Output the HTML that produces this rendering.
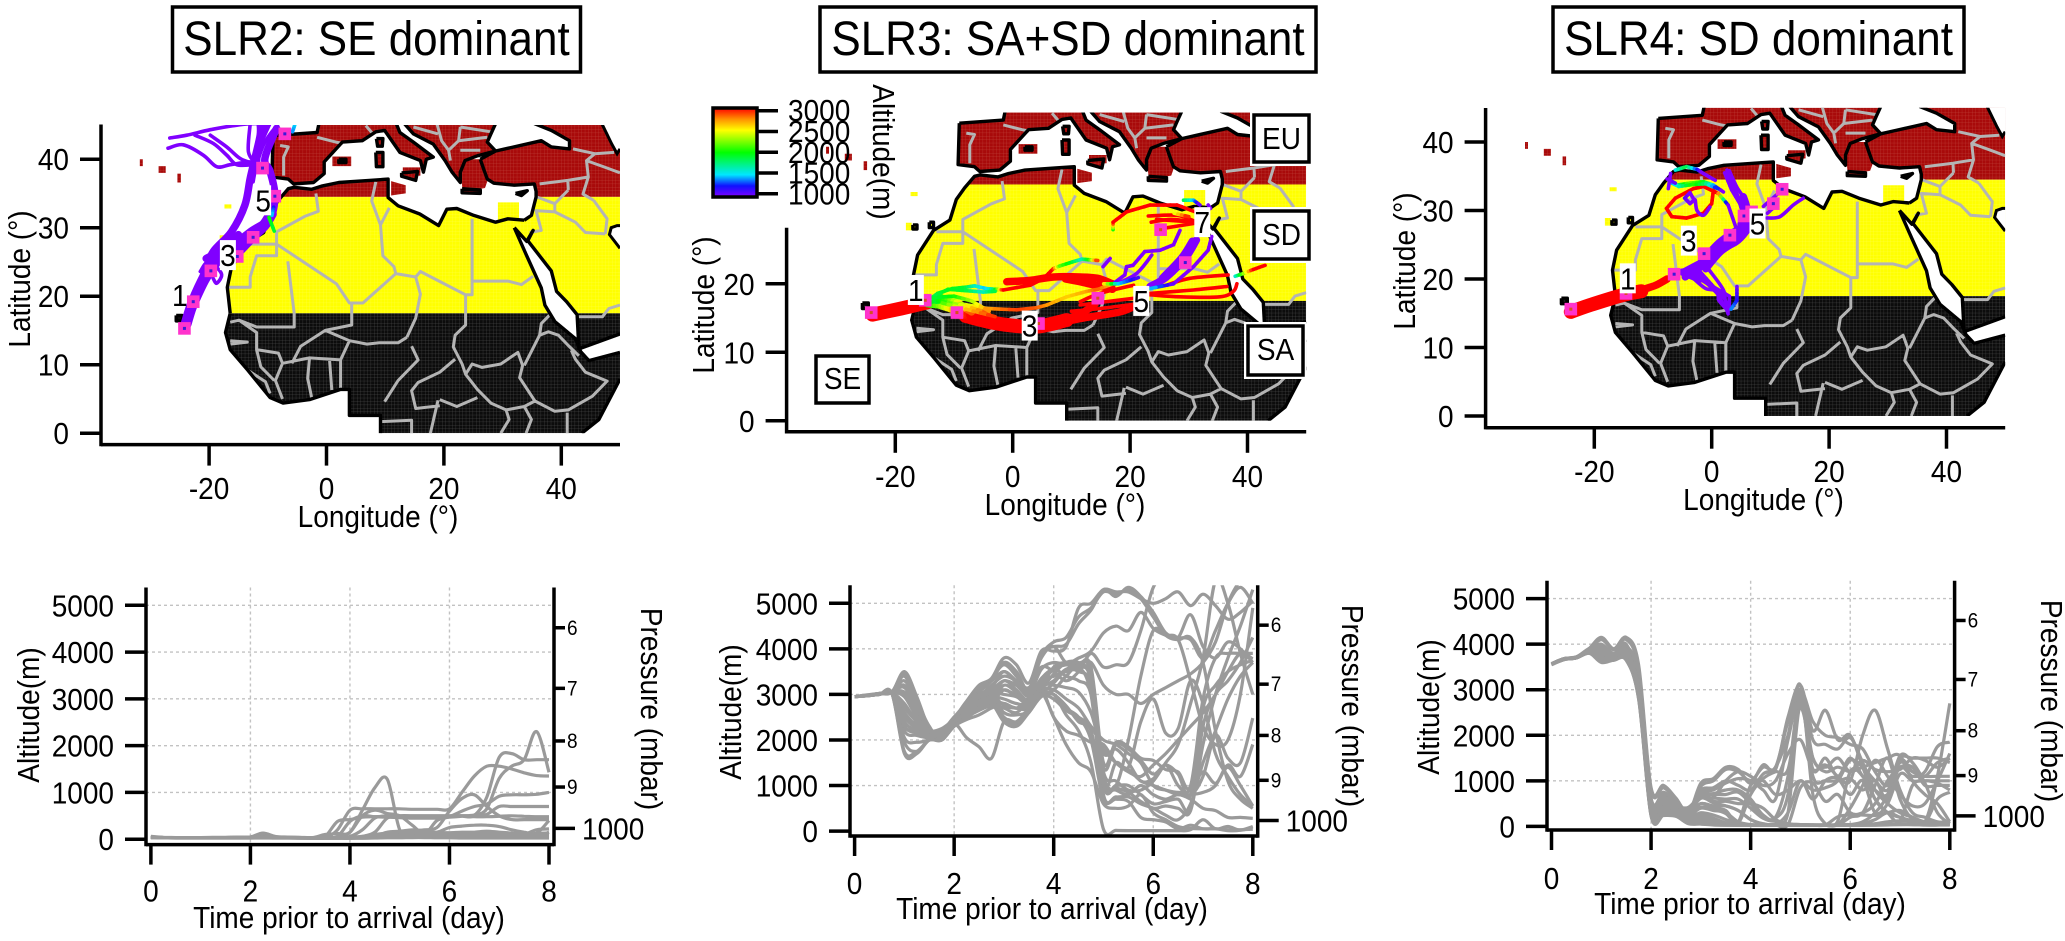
<!DOCTYPE html>
<html lang="en">
<head>
<meta charset="utf-8">
<title>SLR trajectories</title>
<style>
html,body{margin:0;padding:0;background:#fff;width:2065px;height:941px;overflow:hidden}
svg{display:block;font-family:"Liberation Sans",sans-serif;fill:#000}
text{font-size:28px}
</style>
</head>
<body>
<svg id="figure" xmlns="http://www.w3.org/2000/svg" width="2065" height="941" viewBox="0 0 2065 941">
  <defs>
    <pattern id="mesh-red" width="3.4" height="3.4" patternUnits="userSpaceOnUse"><rect width="3.4" height="3.4" fill="#a80a0a"/><path d="M0 0H3.4M0 0V3.4" stroke="#c24a40" stroke-width=".5"/></pattern>
    <pattern id="mesh-yellow" width="3.4" height="3.4" patternUnits="userSpaceOnUse"><rect width="3.4" height="3.4" fill="#ffff00"/><path d="M0 0H3.4M0 0V3.4" stroke="#ffff50" stroke-width=".5"/></pattern>
    <pattern id="mesh-black" width="3.4" height="3.4" patternUnits="userSpaceOnUse"><rect width="3.4" height="3.4" fill="#0c0c0c"/><path d="M0 0H3.4M0 0V3.4" stroke="#555" stroke-width=".5"/></pattern>
    <linearGradient id="altitude-gradient" x1="0" y1="1" x2="0" y2="0"></linearGradient>
  </defs>
  <g id="maps"></g>
  <g id="profiles"></g>

  <g>
    <rect x="172.5" y="7" width="408" height="65" fill="#fff" stroke="#000" stroke-width="3.5"/>
    <text x="376.5" y="55" text-anchor="middle" style="font-size:44px">SLR2: SE dominant</text>
    <rect x="820" y="7" width="496" height="65" fill="#fff" stroke="#000" stroke-width="3.5"/>
    <text x="1068" y="55" text-anchor="middle" style="font-size:44px">SLR3: SA+SD dominant</text>
    <rect x="1553" y="7" width="411" height="65" fill="#fff" stroke="#000" stroke-width="3.5"/>
    <text x="1758.5" y="55" text-anchor="middle" style="font-size:44px">SLR4: SD dominant</text>
  </g>

  <g>
    <text x="378" y="527" text-anchor="middle">Longitude (°)</text>
    <text x="1065" y="515" text-anchor="middle">Longitude (°)</text>
    <text x="1763.5" y="510" text-anchor="middle">Longitude (°)</text>
    <text transform="translate(30,279) rotate(-90)" text-anchor="middle">Latitude (°)</text>
    <text transform="translate(714,305) rotate(-90)" text-anchor="middle">Latitude (°)</text>
    <text transform="translate(1415,261) rotate(-90)" text-anchor="middle">Latitude (°)</text>
  </g>

  <g>
    <text x="349" y="928" text-anchor="middle">Time prior to arrival (day)</text>
    <text x="1052" y="919" text-anchor="middle">Time prior to arrival (day)</text>
    <text x="1750" y="914" text-anchor="middle">Time prior to arrival (day)</text>
    <text transform="translate(39,715) rotate(-90)" text-anchor="middle">Altitude(m)</text>
    <text transform="translate(741,712) rotate(-90)" text-anchor="middle">Altitude(m)</text>
    <text transform="translate(1439,707) rotate(-90)" text-anchor="middle">Altitude(m)</text>
    <text transform="translate(641,709) rotate(90)" text-anchor="middle">Pressure (mbar)</text>
    <text transform="translate(1342,706) rotate(90)" text-anchor="middle">Pressure (mbar)</text>
    <text transform="translate(2041,701) rotate(90)" text-anchor="middle">Pressure (mbar)</text>
  </g>

  <g id="colorbar">
    <rect x="713" y="108" width="44" height="89" fill="url(#altitude-gradient)" stroke="#000" stroke-width="3.5"/>
    <text transform="translate(873,152) rotate(90)" text-anchor="middle">Altitude(m)</text>
  </g>

  <g>
    <rect x="1250" y="111" width="62" height="55" fill="#fff"/>
    <rect x="1254" y="115" width="55" height="47" fill="#fff" stroke="#000" stroke-width="3.5"/>
    <text x="1281.5" y="149" text-anchor="middle">EU</text>
    <rect x="1250" y="207" width="62" height="56" fill="#fff"/>
    <rect x="1254" y="211" width="55" height="48" fill="#fff" stroke="#000" stroke-width="3.5"/>
    <text x="1281.5" y="245" text-anchor="middle">SD</text>
    <rect x="1244" y="322" width="62" height="57" fill="#fff"/>
    <rect x="1248" y="326" width="55" height="49" fill="#fff" stroke="#000" stroke-width="3.5"/>
    <text x="1275.5" y="360" text-anchor="middle">SA</text>
    <rect x="816" y="356" width="53" height="47" fill="#fff" stroke="#000" stroke-width="3.5"/>
    <text x="842.5" y="389" text-anchor="middle">SE</text>
  </g>
</svg>

<script>
/* ---------- shared axis data ---------- */
const lonTicks = [-20, 0, 20, 40];
const latTicksFull = [0, 10, 20, 30, 40];
const latTicksShort = [0, 10, 20];
const dayTicks = [0, 2, 4, 6, 8];
const dayGrid = [2, 4, 6];
const altTicks = [0, 1000, 2000, 3000, 4000, 5000];
const pressureLabels = ['6', '7', '8', '9', '1000'];
const pressureAltitudes = [4520, 3225, 2100, 1115, 232];
const colorbarTicks = [3000, 2500, 2000, 1500, 1000];
const colorStopAlt = [1000, 1250, 1500, 2000, 2500, 2750, 3000];
const colorStopHue = ['#8000ff', '#1010ff', '#00e8ff', '#00ff00', '#ffff00', '#ff9000', '#ff0000'];
const days = [0,.25,.5,.75,1,1.25,1.5,1.75,2,2.25,2.5,2.75,3,3.25,3.5,3.75,4,4.25,4.5,4.75,5,5.25,5.5,5.75,6,6.25,6.5,6.75,7,7.25,7.5,7.75,8];

/* ---------- geography (lon, lat); a third value of 1 marks an unstroked seam ---------- */
const landCoasts = [
  [[-16.4,17.5],[-16.9,21.3],[-16.2,24.2],[-13.5,27.8],[-10.7,29.3],[-9.6,32.3],[-8.2,34],[-6.5,35.7],[-5.5,35.9],[-2.5,35.6],[-0.7,36.1],[2.1,36.6],[7.3,36.9],[10.5,37.1],[10.5,34.4],[12.2,33.2],[15.9,32],[19.1,30.3],[20.5,32.7],[22.2,32.8],[25.1,31.8],[28.8,30.8],[30.9,31.3],[33.7,31.1],[32,30,1],[34,26.1],[36.6,21.2],[37.2,18.7],[38.9,16.3],[42.4,13.8],[43.3,11.9],[44.7,10.6],[50,11.8],[50,7.9],[46.4,2],[43.5,0],[9.2,0],[9.2,2.6],[3.9,2.6],[3.9,6.4],[2.4,6.4],[-2.9,4.9],[-7.4,4.4],[-9.6,5.2],[-13.4,9.2],[-16.4,12.2],[-17.2,14.7]],
  [[26.2,40],[26.8,38.5],[27.4,37.1],[28.5,36.5],[32,36.2],[35.4,36.4],[35.7,35.3],[35.7,34.5],[34.9,31.8],[33.7,31.1],[32,30,1],[34.1,28],[35.2,29.6],[34.3,28.1],[38.3,23.7],[39.2,20.7],[40.9,19.2],[42.7,17.3],[43,12.3],[50,14.5],[50,45],[35.4,45.2],[38.3,44.2],[41.4,42.7],[41.4,41.5],[38.3,41.8],[36.6,42.7],[31.4,41.7],[28.8,41.2]],
  [[-9.1,43.45],[-1.6,43.9],[-1.3,45.15],[11.9,45.15],[12.5,43.9],[14.8,42.5],[18.2,40.3],[17,40],[16.5,38.1],[16,39.8],[12.5,41],[9.9,44.2],[8.4,44],[6.1,42.7],[2.7,42.5],[-0.4,39.6],[-0.4,37.9],[-2.2,36.6],[-5.6,36.4],[-6.5,37.1],[-9.3,37.4]],
  [[13.3,45.15],[14.8,43.7],[18.2,42.2],[20.2,39.8],[21.4,38.1],[22.8,36.6],[22.8,38.1],[23.6,39.8],[25.7,40.5],[28.8,41.2],[27.4,42.5],[28,43.7],[28.8,45.2]],
  [[12.8,38],[15.5,38.2],[15.2,36.9],[12.8,37.5]],
  [[8.4,41],[9.6,41],[9.6,38.9],[8.5,38.9]],
  [[8.5,43],[9.6,43],[9.5,41.9],[8.7,41.9]],
  [[2.1,40],[3.3,40],[3.3,39.5],[2.1,39.5]],
  [[23.1,35.7],[26.2,35.5],[26.2,35],[23.1,35.1]],
  [[32.2,35],[34.2,35.4],[33.2,34.7]],
  [[-25.6,17.2],[-24.6,17.2],[-24.6,16.4],[-25.6,16.4]],
  [[-17,28.6],[-16.3,28.6],[-16.3,28],[-17,28]],
  [[-14.2,29],[-13.5,29],[-13.5,28.2],[-14.2,28.2]]
];
const landPatches = [
  [[29.2,31],[29.2,33.7],[32.8,33.7],[32.8,31]],
  [[23,40],[26.5,40],[27.5,37],[27,35.8],[23.2,35.2],[23,37]],
  [[11,36.8],[13.5,36.2],[13.5,35],[11,34.7]],
  [[13,38.8],[16,38.8],[16,37.6],[13,37.4]],
  [[1,40.4],[4.2,40.4],[4.2,39],[1,39]],
  [[-31.8,40],[-31.3,40],[-31.3,39],[-31.8,39]],
  [[-28.6,39],[-27.4,39],[-27.4,38],[-28.6,38]],
  [[-25.4,37.9],[-24.8,37.9],[-24.8,36.6],[-25.4,36.6]],
  [[-17.4,33.4],[-16.2,33.4],[-16.2,32.8],[-17.4,32.8]],
  [[-18.2,28.9],[-17.2,28.9],[-17.2,27.8],[-18.2,27.8]]
];
const waterCutouts = [
  [[50,30.3],[49.5,30.3],[48.5,30],[48.2,29],[50,27]],
  [[50,45.2],[46.9,45.2],[48.6,42.2],[49.5,40.8],[50,41.5]]
];
const countryBorders = [
  [[-16.9,21.3],[-13,21.3],[-13,22.8],[-11.9,25.9],[-8.5,25.9],[-8.5,27.6],[-13,27.6]],
  [[-8.5,27.6],[1.7,21.8],[3.9,19],[6.2,19],[11.8,23.3],[15.2,22.8],[16,23.6],[23.7,20.2]],
  [[-6.6,25.1],[-5.5,17.5],[-5.5,15.5],[-11.9,15.5],[-14.9,16.5],[-16.4,16.2]],
  [[-8.5,27.6],[-8.5,29.4],[-3.6,31.7],[-1.4,32.4],[-1.8,35]],
  [[8.4,36.7],[7.7,33.9],[9.2,30.4],[9.6,25.9],[11.5,24.3],[11.8,23.3]],
  [[9.2,30.4],[10.7,32.9]],
  [[24.8,31.3],[24.8,20.2],[23.7,20.2]],
  [[24.8,22.2],[30.9,22.2],[33.2,21.7],[35.2,22.9]],
  [[15.2,22.8],[16,20.3],[15.2,16.8],[13.7,14]],
  [[4.3,19],[4.3,15.8],[-0.2,15],[-4.4,12.7],[-5.9,10.2]],
  [[3.9,13.5],[6.9,13],[9,13.2],[12.2,13.2],[13.7,14]],
  [[14.5,12.7],[15.6,10.7],[12.2,7.7],[9.9,4.6]],
  [[-0.2,15],[3.9,13.5],[2.4,10.7],[2.4,6.4]],
  [[0.5,11],[0.9,6.3]],
  [[-2.9,11],[-3.2,8],[-2.5,5.1]],
  [[-7.5,10.2],[-2.9,11],[2.4,10.7]],
  [[-14.9,16.5],[-11.9,14.7],[-11.9,12.2],[-8.2,11.7],[-7.5,10.2],[-8.7,7.7],[-7.5,5]],
  [[-16.4,13.5],[-13.5,13.3],[-16.4,13]],
  [[-11.9,12.2],[-11.2,9.7],[-8.9,7.7]],
  [[-13.4,9.2],[-10.4,7.5],[-9.6,5.8]],
  [[23.7,20.2],[23.7,15.8],[21.9,14.3],[21.6,12.6],[23.1,10.1],[23.7,8.6],[25.7,6.4],[28,4.4],[30.6,3.4],[33.7,3.9],[35.5,4.7],[38.9,3.2],[41.2,3.4],[45.3,5.4],[47.8,7.6],[44.1,8.9],[42.4,10.8],[41.7,12.1]],
  [[23.7,8.6],[24.8,10.1],[26.5,9.6],[29.7,10.1],[32.6,11.8],[33.4,9.9],[32.9,8.1],[35.5,4.7]],
  [[38.3,17.5],[36.6,16],[36.3,14.3],[33.7,9.9]],
  [[36.3,14.3],[37.8,14.8],[39.5,14.3],[41.2,12.8],[43,11.3]],
  [[21.9,10.8],[19.3,8.9],[15.6,7.4],[14.5,6.2],[15.2,3.6],[19.3,4]],
  [[19.3,4.9],[22.2,3.9],[25.7,5.2]],
  [[30.6,3.4],[31.1,2],[29.7,0]],
  [[33.7,3.9],[34.9,2],[34,0]],
  [[41,3],[41,0]],
  [[17.7,0],[19,4.8]],
  [[9.2,1.7],[14.5,1.9],[14.5,0]],
  [[42.6,17],[47,17],[48.1,18.2],[50,18.7]],
  [[34.6,29.3],[36.6,29.6],[35.7,32.5],[38.9,32.3],[42.4,30.8],[44.1,29.3],[47.5,29.1]],
  [[35.8,34.5],[38.9,33.5],[41.2,35.5]],
  [[38.9,33.5],[38.9,32.3]],
  [[41.2,35.5],[41.1,36.9]],
  [[45.5,34],[47.8,31.3],[47.5,29.1]],
  [[-7.9,42],[-6.5,41.8],[-7.3,40.3],[-7.3,37.6]],
  [[-1.6,43.2],[1.6,42.5],[2.8,42.3]],
  [[6.7,44.9],[7.9,43.7]],
  [[18.8,45.2],[19.6,42.7],[20.8,41.3],[21.1,39.8]],
  [[14.8,44.7],[19,43.7]],
  [[22.8,44.7],[22.5,42.7],[20.8,41.3]],
  [[22.5,42.7],[27.4,43.2]],
  [[22.8,41.3],[26.2,41.3]],
  [[22.8,44.7],[28,44]],
  [[36.3,36.4],[41.1,36.9],[44.6,37.4],[44.3,39.8],[45.7,40.8],[42,41.5]],
  [[45.7,40.8],[49,41]],
  [[44.3,39.8],[47.5,38.8],[50,38]],
  [[44.6,37.4],[43.7,34.9],[45.5,34]]
];
const regionLatMin = [34.5, 17.5, 0];
const regionLatMax = [45, 34.5, 17.5];
const regionFill = ['url(#mesh-red)', 'url(#mesh-yellow)', 'url(#mesh-black)'];

/* ---------- trajectories: [lon, lat, altitude] ---------- */
const slr2WideTracks = [
  [[-23.9,16,800],[-22.7,19.2,800],[-20.4,23.4,800],[-18.8,25.6,800]],
  [[-14.8,26.8,800],[-12.8,28.6,800],[-10.6,30.4,800],[-9.4,32,800]]
];
const slr2MidTracks = [
  [[-24.2,15.3,800],[-22.7,19.2,800],[-20.7,23.6,800],[-19.3,26.5,800],[-16.2,29.4,800],[-13.9,33.3,800],[-13,37.2,800],[-12.2,40.1,800],[-11.3,43.5,800],[-11.3,45.2,800]],
  [[-23.3,17.3,800],[-20.4,22.6,800],[-17,26.5,800],[-13,29.4,800],[-9.6,31.4,800],[-8.8,34.8,800],[-9.6,38.2,800],[-10.5,40.1,800],[-8.5,44.5,800]],
  [[-11.9,39.5,800],[-11.6,42,800],[-10,45.2,800]],
  [[-20.5,25.5,800],[-17.5,27,800],[-15,29,800]]
];
const slr2ThinTracks = [
  [[-26.7,43.1,800],[-23.8,43.5,800],[-19.8,44.3,800],[-14.2,45.1,800],[-11.3,45.2,800]],
  [[-27,41.6,800],[-24.4,42.1,800],[-21,40.6,800],[-18.7,38.9,800],[-16.4,39.2,800],[-13,39.6,800],[-11.9,39.2,800]],
  [[-22.4,43.5,800],[-19.3,42.3,800],[-17,40.6,800],[-15.3,39.2,800],[-12.5,39.2,800]],
  [[-19.8,43.5,800],[-17,41.8,800],[-14.7,40.1,800],[-12.5,39.4,800]],
  [[-13,45.2,800],[-13.3,41.1,800],[-11.9,39.2,800]],
  [[-8.2,45.2,800],[-10.5,42.5,800],[-11.9,39.2,800],[-12.5,36.7,800]],
  [[-21.5,23.6,800],[-20.1,25,800],[-17.9,23.3,800],[-18.7,21.9,800],[-19.3,22.6,800]],
  [[-9,33,1200],[-9.3,31.8,1500]],
  [[-9.8,31.5,2000],[-8.9,29.5,1900]],
  [[-5.4,45,1500],[-5.8,44,1400]]
];
const slr2Markers = [[-24.2,15.3,800],[-22.7,19.2,800],[-19.7,23.7,800],[-15.2,25.8,800],[-12.5,28.6,800],[-8.8,34.6,800],[-10.9,38.7,800],[-7.1,43.7,800]];
const slr2Labels = [['1',-25,20.2,0],['3',-16.8,26,1],['5',-10.8,34,1]];

const slr3WideTracks = [
  [[-23.9,15.5,3000],[-19,16.4,3000],[-14.5,17.3,3000]],
  [[-8,15.3,3000],[-3.3,14.3,3000],[1.2,13.8,3000],[4.7,13.8,3000],[9.2,14.7,3000]]
];
const slr3MidTracks = [
  [[-14.5,17.1,2000],[-12.5,16.9,2200],[-10.7,16.4,2500],[-9,15.8,2800],[-7.3,15.2,3000],[-4.5,14.5,3000]],
  [[-14.5,17.4,1900],[-12.3,18,2000],[-10.7,17.3,2300],[-9,16.2,2700],[-7.3,15.4,3000],[-4.5,14.8,3000]],
  [[-13,17.6,1900],[-11,17.8,2100],[-9,17,2500],[-7,15.9,2900]],
  [[7,14.2,3000],[11.5,15.6,3000],[14,17,3000]],
  [[8,14.3,3000],[12,15,3000],[18.3,15.9,3000],[21.1,16.9,3000]],
  [[-1,20.3,3000],[3,20.5,3000],[7,21,3000],[11.5,21,3000],[14.5,20.8,3000],[17,20,3000]],
  [[9,20.7,3000],[12,20.2,3000],[15,19.6,3000],[17,19.2,3000]],
  [[31.3,26.4,800],[29.6,24,800],[26.2,21,800],[23.4,19.6,800]],
  [[30.6,26.2,800],[28.8,23.8,800],[25.5,20.8,800]]
];
const slr3ThinTracks = [
  [[-14.5,17.5,1700],[-12.8,18.6,1900],[-10.3,19.3,1950],[-8,19.5,1900],[-6.5,19.7,1650],[-4.5,19.3,1450],[-3,19.2,1800],[-1.6,19.1,3000],[3,19.8,3000],[5.3,20.8,3000],[6.9,22.2,3000],[8,22.6,2200],[10.2,23.2,1900],[11.8,23.6,1600],[13.2,23.5,2100],[14.5,23.4,3000]],
  [[-14.3,17.8,1800],[-11,19.2,1950],[-8,19,1900],[-5,18.8,1600],[-3,18.9,1900]],
  [[-9,17.1,2300],[-4.4,16.4,2700],[0.7,16.2,2900],[4,16.5,2850],[5.8,16.9,2750],[9.2,18.1,2600],[12.6,18.9,2700],[14.5,19.2,2850],[17.1,20,2650]],
  [[-12,17.4,2000],[-8,16.8,2500],[-4,15.6,2900]],
  [[-12,17.2,2100],[-8,16.3,2600],[-3,15.2,2950]],
  [[-13.5,18,1900],[-10,18.2,2000],[-7,17.5,2300],[-4,16,2800]],
  [[11.5,15.2,3000],[18.3,15.9,3000],[21.1,16.9,3000]],
  [[11.5,16.9,3000],[16,17.4,3000],[20.8,17.9,3000]],
  [[11.5,17.4,3000],[14.9,18.6,3000],[20.6,19.8,3000]],
  [[10,16,3000],[14,16.3,3000],[20.5,17,3000]],
  [[23.4,18.4,3000],[28.5,18.1,3000],[35.3,18.1,3000],[37.6,18.9,3000],[38.2,20,3000]],
  [[23.4,18.6,3000],[30.8,19.1,3000],[36.5,19.6,3000]],
  [[26.2,19.8,3000],[30.2,20.8,3000],[36.7,21.3,3000]],
  [[37.9,21.1,1500],[39.3,21.5,2200],[41,22.1,3000],[43,22.7,3000]],
  [[28.5,27.8,800],[27.4,25.7,800],[25.1,24.9,800],[22.5,24.7,800],[20.5,22.7,800],[19.4,22.5,800],[19.1,21.3,800],[17.1,20,1100]],
  [[23.7,24.2,800],[21.1,21.5,800],[17.7,20,800]],
  [[33.9,26.9,800],[33.3,24.9,800],[30.8,22.5,800],[27.4,20,1000],[23.4,19.3,1500]],
  [[16.6,23.7,800],[15.4,22.5,1000]],
  [[15.5,20,2700],[18,20,1500],[20,20.5,1300],[21.4,20.9,1100]],
  [[17.1,27.9,1900],[17.1,29,3000],[19.4,30.5,3000],[23.4,31.5,3000],[28,31.5,3000],[31.1,30.5,3000]],
  [[23.1,29.9,3000],[28,30,3000],[31.1,29.1,3000]],
  [[24.5,29.4,3000],[31.1,29,3000]],
  [[25.7,28.1,3000],[30.8,28.8,3000]],
  [[23.6,29,3000],[27,29.4,3000],[31,29,3000]],
  [[27.5,30.3,2400],[30,29.8,3000]],
  [[29.1,32.2,1900],[30.8,32.2,1500],[31.9,31.5,1000]],
  [[33.3,31.5,800],[33.7,31,800]]
];
const slr3Markers = [[-24.1,15.8,3000],[-14.9,17.6,3000],[-9.5,15.8,2700],[4.4,14.2,3000],[14.5,17.9,3000],[29.4,23.1,900],[25.2,27.9,2900]];
const slr3Labels = [['1',-16.5,19.1,1],['3',2.9,13.9,1],['5',21.9,17.5,1],['7',32.3,29,1]];

const slr4WideTracks = [
  [[-24,15.2,3000],[-20.7,16.2,3000],[-15,17.7,3000],[-12,18.2,3000]]
];
const slr4MidTracks = [
  [[-12,18.4,3000],[-9.5,19.1,3000],[-7.6,20,3000]],
  [[-3.7,20.8,800],[-1.8,22.4,800],[0.9,25,800],[3,26.4,800],[5.2,27.6,800]],
  [[-2.8,21,800],[-0.6,23,800],[2,25.2,800],[4.4,26.5,800],[6,28,800]],
  [[-1,21.5,800],[1.5,24,800],[4.5,25.8,800],[6.5,28,800]],
  [[5,28,800],[6,30,800],[5.4,32,800]],
  [[-5,21,800],[-3,20.3,800],[-2,20,800]],
  [[-4.5,20.3,800],[-3,21.3,800],[-1.8,20.5,800]]
];
const slr4ThinTracks = [
  [[-3.7,20.8,800],[-0.9,23.7,800],[2,25.9,800],[4.8,27.1,800],[6,29.1,800],[4.8,31.5,800],[3.7,33.5,800],[2.6,35.9,900]],
  [[-4.8,21.3,800],[-0.3,23.3,800],[4.3,25.2,800],[6.3,27,800]],
  [[-2,22,800],[1,24.2,800],[4,26,800],[6.8,28.2,800]],
  [[-3.7,20.8,800],[-0.9,19.4,800],[2,17.4,800],[2.8,15.2,800]],
  [[-2,20.3,800],[0.9,17.9,800],[1.2,16.9,800],[2.6,15.5,800]],
  [[-0.6,21.5,800],[2,18.4,800],[2.3,16.4,800],[2.8,14.9,800]],
  [[-1.4,20.5,800],[0.4,18.8,800],[3,17.5,800],[3,15.8,900]],
  [[-3,20,800],[-1,18.6,800],[1,18.2,800],[1.8,16.3,800]],
  [[4.3,18.9,1000],[4.3,16.9,1200],[3.3,15.6,1400]],
  [[0.3,33,3000],[0,31,3000],[-1.4,29.6,3000],[-4.3,28.9,3000],[-6.8,29.1,3000],[-7.7,30.3,3000],[-6.2,31.8,3000],[-3.1,33.2,3000],[-1.4,33.5,3000],[1.1,32.5,3000],[2.8,30.8,1000],[4.3,27.1,800]],
  [[-7.4,34.5,1400],[-6,33.7,1700],[-3.7,34,2200],[-1.4,34.2,2000],[0.3,33.7,1500],[2,32.7,900]],
  [[-7.2,34.2,1300],[-5.6,33.5,1600],[-3.2,33.8,2100],[-1,33.9,1800],[1,33.2,1200]],
  [[-6.2,35.9,1500],[-4.3,36.4,1900],[-2.5,36,1300],[-1.4,35.4,900],[0.6,34.4,800]],
  [[-7,35.4,800],[-7.4,33.2,800]],
  [[-7.6,34.6,800],[-6.2,34,1100]],
  [[-2.9,31.4,800],[-3.7,32.6,800],[-4.6,31.8,1100],[-3.7,31,1000],[-2.9,31.6,800]],
  [[-2.8,31.5,800],[-2.5,30,800],[-1.4,29.3,800],[-0.3,30.5,800]],
  [[3,35.8,800],[4.3,33.4,800],[5.4,31.9,800],[6,30,800]],
  [[2.2,35.5,900],[3.4,33,800],[4.8,31,800],[5.5,29,800]],
  [[9.4,28.9,800],[11.6,29.1,800],[13.9,30.8,800],[15.6,31.8,800]],
  [[8.8,30.6,800],[11.6,32.7,800]],
  [[9.5,29.6,900],[11,30.8,800]]
];
const slr4Markers = [[-24,15.6,3000],[-14.6,17.9,3000],[-6.4,20.7,800],[-1.3,23.7,800],[3.1,26.4,800],[5.5,29.2,800],[6.8,29.8,800],[10.5,31,800],[12,33.1,800]];
const slr4Labels = [['1',-14.3,20.1,1],['3',-3.9,25.6,1],['5',7.8,28.1,1]];

/* ---------- altitude profiles (m), one value per entry of days ---------- */
const slr2Altitudes = [
  [60,40,35,35,35,40,40,45,50,130,60,45,40,35,100,120,150,620,1100,1280,200,80,90,100,110,120,130,120,100,90,90,90,90],
  [50,35,30,30,30,35,35,40,45,100,50,40,35,30,60,380,420,470,480,490,490,490,490,490,490,500,520,650,1300,1560,1700,2300,1430],
  [50,35,30,30,30,30,35,40,45,110,50,40,35,30,40,60,380,500,480,470,460,450,450,450,470,490,510,900,1750,1830,1700,1700,1700],
  [50,35,30,30,30,30,35,40,45,90,45,40,35,30,30,200,620,650,650,650,650,640,640,640,650,1000,1350,1560,1560,1500,1420,1360,1350],
  [45,35,30,30,30,30,35,40,45,80,45,35,30,30,30,40,150,500,620,550,500,300,120,400,480,600,700,750,920,950,950,960,1000],
  [45,35,30,30,30,30,30,35,40,60,40,35,30,30,30,30,60,200,450,500,500,500,500,500,500,500,500,530,700,700,700,700,700],
  [40,30,30,30,30,30,30,35,40,60,40,30,30,30,30,30,40,60,150,450,500,500,500,500,500,500,480,480,490,500,490,480,480],
  [40,30,30,30,30,30,30,30,35,50,35,30,30,30,30,30,30,50,100,130,150,180,200,250,600,870,950,700,500,420,420,420,420],
  [40,30,30,30,30,30,30,30,35,45,35,30,30,30,30,30,30,30,60,150,170,200,180,150,250,280,300,300,270,200,150,130,400],
  [40,30,30,30,30,30,30,30,30,35,30,30,30,30,30,30,30,40,60,100,120,130,130,140,140,150,150,170,150,130,110,200,220],
  [35,30,30,30,30,30,30,30,30,30,30,30,25,20,20,30,30,50,70,80,90,100,110,100,90,80,70,60,60,60,60,120,130],
  [35,30,25,25,25,25,25,25,25,30,25,25,25,20,20,20,20,40,50,60,70,70,60,50,40,40,40,30,30,40,40,50,40],
  [35,30,25,25,25,25,25,25,25,25,25,25,20,20,20,20,20,20,25,30,30,35,35,30,30,25,25,25,25,25,25,25,25],
  [40,30,30,30,30,30,30,30,30,30,30,30,30,25,25,25,25,25,30,40,40,50,60,60,50,40,30,30,30,30,30,30,30],
  [45,35,35,35,35,35,35,35,40,40,35,35,30,30,30,30,40,60,100,100,80,60,50,100,120,130,110,130,90,80,60,60,150]
];
const slr3Altitudes = [
  [2950,2980,3020,3050,3500,2950,2250,2050,2450,2850,3100,3350,3650,3400,3050,3850,4150,4250,4700,4900,5250,5200,5300,5100,4700,4300,4200,4250,3700,2200,1100,700,500],
  [2950,2980,3020,3060,3450,2900,2200,2000,2400,2800,3050,3300,3700,3500,3100,3900,4050,4100,4550,4850,5300,5150,5350,5150,4800,4350,4250,4200,3800,4400,5000,5350,5000],
  [2950,2990,3020,3040,3200,2700,2200,2100,2500,2750,2950,3200,3400,3300,3150,3600,3500,3300,3500,3900,3600,3650,3700,4400,5350,5600,5700,5800,5800,5800,5800,5800,5800],
  [2950,2980,3010,3040,3050,2600,2150,2150,2500,2700,3000,3100,3300,3200,3000,3550,3700,3650,3650,3700,3200,3000,3000,2800,3000,3150,3300,3450,3700,4150,5000,5500,5700],
  [2950,2980,3020,3050,3300,2800,2150,2050,2450,2800,3150,3300,3500,3300,3100,3800,4050,3700,3800,3950,4350,4500,4400,4800,4450,4300,4250,4750,4050,3800,4150,4000,3700],
  [2950,2980,3020,3050,3400,2850,2300,2000,2450,2850,3200,3350,3800,3650,3250,3950,3950,4050,4900,5000,5300,5250,5250,5100,5000,5100,5250,4950,5200,4950,4650,4800,5050],
  [2950,2980,3020,3050,2950,2500,2200,2200,2500,2700,2900,3050,3000,2950,2800,3250,3550,3650,3650,3600,1500,1950,1850,1600,1550,1350,1300,1000,2900,3800,3900,3900,3900],
  [2950,2980,3010,3040,2800,2400,2200,2250,2450,2650,2850,3000,2750,2700,2700,3150,3600,3700,3650,3550,1400,1900,1800,1550,1250,1450,1250,800,2700,3200,3500,3650,3750],
  [2950,2970,3010,3040,2600,2300,2100,2200,2400,2650,2800,2950,2600,2550,2650,3100,3450,3700,3700,3450,1000,1000,1000,800,600,650,700,500,2300,3000,3300,3700,4250],
  [2950,2970,3000,3030,2400,2200,2050,2150,2350,2600,2750,2900,2500,2400,2600,3000,3250,3550,3600,3300,1000,950,850,650,500,550,500,450,1900,3000,3800,4500,5300],
  [2950,2970,3000,3030,2200,2100,2050,2100,2350,2550,2700,2850,2450,2350,2650,3000,3100,3400,3600,3000,800,750,750,600,500,350,250,600,1500,2200,2900,3400,3700],
  [2950,2970,3000,3030,2050,1950,2000,2050,2300,2550,2700,2800,2400,2300,2600,2950,3000,2700,2500,2000,700,700,650,300,250,200,50,130,50,50,10,20,100],
  [2950,2970,3000,3020,1750,1750,2000,2000,2300,2500,2650,2750,2700,2600,2850,3000,3000,2550,2200,1500,40,15,10,10,10,10,10,30,250,50,100,20,90],
  [2950,2970,3000,3020,1700,1700,2000,2000,2300,2450,2550,2700,2800,2700,2900,3050,2500,1900,1500,1300,600,500,550,800,400,250,100,60,50,50,30,30,40],
  [2950,2980,3010,3040,3000,2650,2250,2100,2450,2700,2950,3100,3100,3000,2900,3300,3400,3500,3550,3400,1000,1500,1400,2400,2900,2150,2250,3300,2800,1700,1200,800,550],
  [2950,2980,3010,3040,2700,2400,2150,2200,2450,2650,2850,2950,2900,2800,2800,3200,3200,3150,3050,2600,1700,1800,1500,1100,1150,1450,1000,800,1200,2100,1600,1500,2480],
  [2950,2970,3000,3030,2500,2250,2100,2200,2400,2600,2750,2850,2800,2700,2750,3100,3100,2900,2700,2300,2000,1900,1700,1500,1000,900,850,900,1300,1050,1400,1000,550],
  [2950,2970,3000,3030,2300,2150,2050,2150,2400,2550,2700,2800,3100,2950,2850,3050,3000,2750,2400,2200,1000,900,800,1000,800,700,800,700,500,450,300,300,280],
  [2950,2970,3000,3020,1950,1750,2000,2000,2350,2050,1850,1600,2400,2400,2700,3100,2500,2200,2100,1950,1900,1500,1350,1100,1000,900,800,800,850,1000,1450,1200,1900],
  [2950,2980,3020,3050,3150,2700,2200,2150,2500,2800,3000,3150,3500,3250,2950,3350,3550,3400,3300,3000,1200,1000,2000,3400,4400,4300,4200,3300,2300,1900,2000,3000,4900],
  [2950,2980,3010,3040,2500,2350,2100,2200,2400,2600,2700,2850,3200,3050,2850,3000,2900,2650,2500,2300,1800,1500,1300,1200,1450,1700,2000,2300,2600,3000,3500,3900,3780],
  [2950,2980,3010,3040,2300,2200,2050,2150,2400,2600,2800,2950,3300,3100,2850,3150,3300,3550,3500,3200,1300,1100,900,900,1100,1500,1900,2800,3800,5500,5000,3900,3000]
];
const slr4Altitudes = [
  [3550,3680,3720,3900,4150,3900,4150,3550,850,900,620,300,950,1050,1300,1250,950,1350,1250,2400,3100,2100,2550,1900,2000,1300,600,300,200,120,100,80,80],
  [3550,3670,3700,3880,4100,3880,4100,3450,800,850,600,320,880,1000,1250,1200,1000,1300,1300,2300,3000,1900,1800,1700,1950,1400,800,500,300,200,100,90,100],
  [3560,3680,3710,3850,3950,3750,3950,3300,620,750,550,350,800,850,1000,900,800,1150,1300,2000,3100,700,60,50,40,40,40,40,40,40,40,40,40],
  [3560,3680,3710,3850,3900,3700,3900,3200,580,700,500,380,750,800,950,1050,1000,800,600,1900,2950,2300,2000,1950,1800,1700,1200,900,1500,1500,1500,1500,1400],
  [3560,3670,3700,3830,3850,3650,3850,3100,520,650,480,400,700,720,800,800,600,250,200,1100,2900,1500,1300,1500,1200,1450,1250,1200,1250,1500,1450,1300,1500],
  [3570,3680,3720,3820,3800,3700,3800,3000,480,600,450,420,680,700,700,750,500,220,180,700,2800,1250,1500,1100,1500,1100,800,700,1300,1100,1200,1750,1850],
  [3570,3680,3700,3820,3750,3700,3750,2950,420,550,430,380,620,620,600,600,400,180,120,300,2700,1100,1000,1000,1050,800,1000,600,1450,1200,1100,1100,1100],
  [3560,3670,3700,3800,3700,3650,3700,2850,350,500,420,300,500,450,450,350,150,60,50,300,1000,600,1000,1050,700,1000,300,500,1150,1000,1000,1000,1000],
  [3560,3670,3700,3800,3650,3650,3650,2800,340,450,400,250,400,350,300,100,40,30,30,40,850,950,550,700,300,300,500,1000,1300,1300,900,900,900],
  [3570,3680,3720,3900,4000,3800,4000,3050,300,400,380,200,300,250,150,60,30,30,30,40,40,30,30,120,1200,1100,600,300,120,900,1000,950,800],
  [3570,3680,3700,3880,3950,3800,3950,3000,280,350,340,180,250,180,80,40,30,30,30,30,30,30,30,30,200,300,900,1500,600,150,80,600,750],
  [3570,3680,3700,3860,3900,3750,3900,3000,270,320,320,150,200,120,50,40,30,30,30,30,30,30,30,30,40,100,300,700,1550,1400,950,300,60],
  [3560,3670,3700,3850,3850,3700,3850,2950,260,300,300,120,150,80,40,30,30,30,30,30,30,30,30,30,30,60,150,300,200,120,60,60,100],
  [3560,3670,3700,3840,3800,3700,3800,2900,250,280,280,100,100,50,30,30,30,30,30,30,30,30,30,30,30,30,60,100,120,100,60,40,60],
  [3550,3660,3700,3820,3700,3650,3700,2850,240,260,250,80,60,40,30,25,25,25,25,25,25,25,25,25,25,25,30,40,50,40,30,30,30],
  [3550,3660,3700,3810,3600,3650,3650,2800,230,240,220,60,50,30,25,25,25,25,25,25,25,25,25,25,25,25,25,30,40,40,30,30,50],
  [3570,3680,3710,3880,3950,3800,3950,3050,380,620,500,300,700,550,550,500,500,400,150,60,40,30,30,210,250,250,240,300,350,200,100,1100,2700],
  [3570,3680,3710,3860,3900,3800,3900,3000,360,560,470,320,620,520,450,350,150,50,40,40,40,30,30,40,400,900,1450,1100,700,450,500,1000,1600],
  [3560,3670,3700,3850,3850,3750,3900,2950,330,480,420,280,500,420,350,100,900,1000,700,800,1000,800,850,1000,1450,1300,1000,800,1400,1200,1100,1400,1500],
  [3560,3670,3700,3840,3800,3720,3880,2900,310,420,380,220,420,380,280,80,700,1050,1200,1250,2600,1500,1200,1300,1200,1300,1400,1500,1550,1000,700,500,100],
  [3560,3680,3700,3860,3870,3750,3880,2950,440,520,460,340,660,640,1000,1200,1100,900,1000,1600,1900,1250,1350,1100,1000,2000,2550,1700,800,300,200,100,80]
];

/* ---------- helpers ---------- */
const NS = 'http://www.w3.org/2000/svg';
const figure = document.getElementById('figure');
function make(tag, attrs, parent) {
  const e = document.createElementNS(NS, tag);
  for (const k in attrs) e.setAttribute(k, attrs[k]);
  parent.appendChild(e);
  return e;
}
function smoothPath(p) {
  let d = 'M' + p[0][0].toFixed(1) + ' ' + p[0][1].toFixed(1);
  for (let i = 0; i < p.length - 1; i++) {
    const a = p[Math.max(i - 1, 0)], b = p[i], c = p[i + 1], e = p[Math.min(i + 2, p.length - 1)];
    const c1x = b[0] + (c[0] - a[0]) / 6, c1y = b[1] + (c[1] - a[1]) / 6;
    const c2x = c[0] - (e[0] - b[0]) / 6, c2y = c[1] - (e[1] - b[1]) / 6;
    d += 'C' + c1x.toFixed(1) + ' ' + c1y.toFixed(1) + ' ' + c2x.toFixed(1) + ' ' + c2y.toFixed(1) + ' ' + c[0].toFixed(1) + ' ' + c[1].toFixed(1);
  }
  return d;
}
function hexToRgb(h) { return [1, 3, 5].map(i => parseInt(h.substr(i, 2), 16)); }
function altitudeColor(a) {
  if (a <= colorStopAlt[0]) return colorStopHue[0];
  for (let i = 1; i < colorStopAlt.length; i++) {
    if (a <= colorStopAlt[i]) {
      const f = (a - colorStopAlt[i - 1]) / (colorStopAlt[i] - colorStopAlt[i - 1]);
      const u = hexToRgb(colorStopHue[i - 1]), v = hexToRgb(colorStopHue[i]);
      return 'rgb(' + u.map((c, k) => Math.round(c + (v[k] - c) * f)).join(',') + ')';
    }
  }
  return colorStopHue[colorStopHue.length - 1];
}

/* ---------- colour bar ---------- */
const gradient = document.getElementById('altitude-gradient');
colorStopAlt.forEach((a, i) => {
  make('stop', { offset: (a - 1000) / 2000, 'stop-color': colorStopHue[i] }, gradient);
});
const colorbar = document.getElementById('colorbar');
function colorbarY(a) { return 193.8 - (a - 1000) * (193.8 - 110.7) / 2000; }
colorbarTicks.forEach(a => {
  const t = make('line', { x1: 757, x2: 778, y1: colorbarY(a), y2: colorbarY(a), stroke: '#000', 'stroke-width': 3.5 }, colorbar);
  
  
  const l = make('text', { x: 788, y: colorbarY(a) + 10.5 }, colorbar);
  
  
  l.textContent = a;
});

/* ---------- maps ---------- */
const mapsRoot = document.getElementById('maps');
function drawMap(cfg) {
  const g = make('g', {}, mapsRoot);
  
  
  const X = lon => cfg.x0 + 5.87 * lon;
  const Y = lat => cfg.y0 - 6.85 * lat;
  const polyD = poly => poly.map((p, i) => (i ? 'L' : 'M') + X(p[0]).toFixed(1) + ' ' + Y(p[1]).toFixed(1)).join('') + 'Z';
  const onEdge = (a, b) => (a[0] >= 50 && b[0] >= 50) || (a[1] <= 0 && b[1] <= 0) || (a[1] >= 45 && b[1] >= 45) || b[2] === 1;
  const openD = (poly, closed) => {
    let d = '', pen = false;
    const list = closed ? poly.concat([poly[0]]) : poly;
    for (let i = 0; i < list.length - 1; i++) {
      if (onEdge(list[i], list[i + 1])) { pen = false; continue; }
      if (!pen) d += 'M' + X(list[i][0]).toFixed(1) + ' ' + Y(list[i][1]).toFixed(1);
      d += 'L' + X(list[i + 1][0]).toFixed(1) + ' ' + Y(list[i + 1][1]).toFixed(1);
      pen = true;
    }
    return d;
  };

  const defs = figure.querySelector('defs');
  const clipLand = make('clipPath', { id: cfg.id + '-land' }, defs);
  landCoasts.concat(landPatches).forEach(poly => {
    make('path', { d: polyD(poly) }, clipLand);
  });
  const clipFrame = make('clipPath', { id: cfg.id + '-frame' }, defs);
  make('rect', { x: X(-40), y: Y(45), width: X(50) - X(-40), height: Y(0) - Y(45) }, clipFrame);

  const frame = make('g', { 'clip-path': 'url(#' + cfg.id + '-frame)' }, g);
  
  
  const land = make('g', { 'clip-path': 'url(#' + cfg.id + '-land)' }, frame);
  
  
  regionLatMin.forEach((lo, i) => {
    const r = make('rect', { x: X(-40), y: Y(regionLatMax[i]), width: X(50) - X(-40), height: Y(lo) - Y(regionLatMax[i]), fill: regionFill[i] }, land);
    
    
  });
  waterCutouts.forEach(poly => {
    const w = make('path', { d: polyD(poly), fill: '#fff' }, frame);
    
    
    const s = make('path', { d: openD(poly, true), fill: 'none', stroke: '#000', 'stroke-width': 3 }, frame);
    
    
  });
  const borders = make('path', { d: countryBorders.map(b => openD(b, false)).join(''), fill: 'none', stroke: '#b4b4b4', 'stroke-width': 3, 'stroke-linejoin': 'round' }, frame);
  
  
  const coast = make('path', { d: landCoasts.map(c => openD(c, true)).join(''), fill: 'none', stroke: '#000', 'stroke-width': 3.4, 'stroke-linejoin': 'round' }, frame);
  
  

  const toXY = t => [X(t[0]), Y(t[1])];
  const drawTracks = (tracks, width) => {
    tracks.forEach(track => {
      const same = track.every(p => p[2] === track[0][2]);
      if (same) {
        const tr = make('path', { d: smoothPath(track.map(toXY)), fill: 'none', stroke: altitudeColor(track[0][2]), 'stroke-width': width, 'stroke-linecap': 'round', 'stroke-linejoin': 'round' }, frame);
        
        
      } else {
        const grp = make('g', {}, frame);
        
        
        for (let i = 0; i < track.length - 1; i++) {
          const a = track[i], b = track[i + 1];
          for (let k = 0; k < 4; k++) {
            const f0 = k / 4, f1 = (k + 1) / 4;
            const seg = make('line', { x1: X(a[0] + (b[0] - a[0]) * f0), y1: Y(a[1] + (b[1] - a[1]) * f0), x2: X(a[0] + (b[0] - a[0]) * f1), y2: Y(a[1] + (b[1] - a[1]) * f1), stroke: altitudeColor(a[2] + (b[2] - a[2]) * (f0 + f1) / 2), 'stroke-width': width, 'stroke-linecap': 'round' }, grp);
            
            
          }
        }
      }
    });
  };
  drawTracks(cfg.wide, cfg.wideWidth);
  drawTracks(cfg.mid, 7.5);
  drawTracks(cfg.thin, 3.6);

  cfg.markers.forEach(m => {
    const box = make('rect', { x: X(m[0]) - 6.3, y: Y(m[1]) - 6.3, width: 12.6, height: 12.6, fill: '#ff33cc' }, g);
    
    
    const dot = make('rect', { x: X(m[0]) - 1.5, y: Y(m[1]) - 1.5, width: 3, height: 3, fill: m[2] < 1500 ? '#3a1ad8' : '#d8501a' }, g);
    
    
  });
  cfg.labels.forEach(l => {
    if (l[3]) {
      const bg = make('rect', { x: X(l[1]) - 8, y: Y(l[2]) - 15, width: 16, height: 30, fill: '#fff' }, g);
      
      
    }
    const tx = make('text', { x: X(l[1]), y: Y(l[2]) + 11, 'text-anchor': 'middle' }, g);
    
    
    tx.textContent = l[0];
  });

  const axis = make('g', {}, g);
  
  
  const yLine = make('line', { x1: cfg.axisX, x2: cfg.axisX, y1: cfg.axisTop, y2: cfg.axisBottom + 1.7, stroke: '#000', 'stroke-width': 3.5 }, axis);
  
  
  const xLine = make('line', { x1: cfg.axisX, x2: X(50), y1: cfg.axisBottom, y2: cfg.axisBottom, stroke: '#000', 'stroke-width': 3.5 }, axis);
  
  
  cfg.latTicks.forEach(v => {
    const t = make('line', { x1: cfg.axisX - 21, x2: cfg.axisX, y1: Y(v), y2: Y(v), stroke: '#000', 'stroke-width': 3.5 }, axis);
    
    
    const l = make('text', { x: cfg.axisX - 32, y: Y(v) + 11, 'text-anchor': 'end' }, axis);
    
    
    l.textContent = v;
  });
  lonTicks.forEach(v => {
    const t = make('line', { x1: X(v), x2: X(v), y1: cfg.axisBottom, y2: cfg.axisBottom + 21, stroke: '#000', 'stroke-width': 3.5 }, axis);
    
    
    const l = make('text', { x: X(v), y: cfg.lonLabelY, 'text-anchor': 'middle' }, axis);
    
    
    l.textContent = v;
  });
}
drawMap({ id: 'map-slr2', name: 'map-slr2', x0: 326.5, y0: 433.2, axisX: 101, axisTop: 124.5, axisBottom: 444.6, latTicks: latTicksFull, lonLabelY: 499, wide: slr2WideTracks, wideWidth: 11, mid: slr2MidTracks, thin: slr2ThinTracks, markers: slr2Markers, labels: slr2Labels });
drawMap({ id: 'map-slr3', name: 'map-slr3', x0: 1012.7, y0: 420.8, axisX: 786.6, axisTop: 227.7, axisBottom: 431.8, latTicks: latTicksShort, lonLabelY: 487, wide: slr3WideTracks, wideWidth: 14, mid: slr3MidTracks, thin: slr3ThinTracks, markers: slr3Markers, labels: slr3Labels });
drawMap({ id: 'map-slr4', name: 'map-slr4', x0: 1711.7, y0: 416, axisX: 1485.6, axisTop: 108, axisBottom: 427.7, latTicks: latTicksFull, lonLabelY: 482, wide: slr4WideTracks, wideWidth: 14, mid: slr4MidTracks, thin: slr4ThinTracks, markers: slr4Markers, labels: slr4Labels });

/* ---------- altitude profiles ---------- */
const profilesRoot = document.getElementById('profiles');
function drawProfile(cfg) {
  const g = make('g', {}, profilesRoot);
  
  
  const X = d => cfg.x0 + (cfg.x8 - cfg.x0) * d / 8;
  const Y = a => cfg.y0 + (cfg.y5k - cfg.y0) * a / 5000;

  altTicks.slice(1).forEach(a => {
    const gl = make('line', { x1: cfg.left, x2: cfg.right, y1: Y(a), y2: Y(a), stroke: '#c2c2c2', 'stroke-width': 1.4, 'stroke-dasharray': '3 3' }, g);
    
    
  });
  dayGrid.forEach(d => {
    const gl = make('line', { x1: X(d), x2: X(d), y1: cfg.top, y2: cfg.bottom, stroke: '#c2c2c2', 'stroke-width': 1.4, 'stroke-dasharray': '3 3' }, g);
    
    
  });

  const defs = figure.querySelector('defs');
  const clip = make('clipPath', { id: cfg.name + '-clip' }, defs);
  make('rect', { x: cfg.left, y: cfg.top, width: cfg.right - cfg.left, height: cfg.bottom - cfg.top }, clip);
  const lines = make('g', { 'clip-path': 'url(#' + cfg.name + '-clip)' }, g);
  
  
  cfg.series.forEach(s => {
    const pts = s.map((a, i) => [X(days[i]), Y(a)]);
    const p = make('path', { d: smoothPath(pts), fill: 'none', stroke: '#9a9a9a', 'stroke-width': 3.2, 'stroke-linejoin': 'round' }, lines);
    
    
  });

  const axL = make('line', { x1: cfg.left, x2: cfg.left, y1: cfg.top, y2: cfg.bottom + 1.7, stroke: '#000', 'stroke-width': 3.5 }, g);
  
  
  const axR = make('line', { x1: cfg.right, x2: cfg.right, y1: cfg.top, y2: cfg.bottom + 1.7, stroke: '#000', 'stroke-width': 3.5 }, g);
  
  
  const axB = make('line', { x1: cfg.left, x2: cfg.right, y1: cfg.bottom, y2: cfg.bottom, stroke: '#000', 'stroke-width': 3.5 }, g);
  
  

  altTicks.forEach(a => {
    const t = make('line', { x1: cfg.left - 21, x2: cfg.left, y1: Y(a), y2: Y(a), stroke: '#000', 'stroke-width': 3.5 }, g);
    
    
    const l = make('text', { x: cfg.left - 32, y: Y(a) + 11, 'text-anchor': 'end' }, g);
    
    
    l.textContent = a;
  });
  dayTicks.forEach(d => {
    const t = make('line', { x1: X(d), x2: X(d), y1: cfg.bottom, y2: cfg.bottom + 20, stroke: '#000', 'stroke-width': 3.5 }, g);
    
    
    const l = make('text', { x: X(d), y: cfg.tickLabelY, 'text-anchor': 'middle' }, g);
    
    
    l.textContent = d;
  });
  pressureLabels.forEach((txt, i) => {
    const yy = Y(pressureAltitudes[i]);
    const long = txt === '1000';
    const t = make('line', { x1: cfg.right, x2: cfg.right + (long ? 21 : 11), y1: yy, y2: yy, stroke: '#000', 'stroke-width': 3.5 }, g);
    
    
    const l = make('text', { x: cfg.right + (long ? 28 : 13), y: yy + (long ? 11 : 7), style: 'font-size:' + (long ? 28 : 19) + 'px' }, g);
    
    
    l.textContent = txt;
  });
}
drawProfile({ name: 'profile-slr2', x0: 150.9, x8: 549, y0: 839.2, y5k: 605.3, left: 146, right: 554, top: 587.5, bottom: 844.6, tickLabelY: 901.6, series: slr2Altitudes });
drawProfile({ name: 'profile-slr3', x0: 854.6, x8: 1252.8, y0: 831.1, y5k: 603.3, left: 850, right: 1257.7, top: 585.2, bottom: 836, tickLabelY: 893.9, series: slr3Altitudes });
drawProfile({ name: 'profile-slr4', x0: 1551.5, x8: 1949.8, y0: 826.4, y5k: 598.6, left: 1547, right: 1954.6, top: 580.8, bottom: 830, tickLabelY: 888.9, series: slr4Altitudes });

/* ---------- reference type is taller than it is wide: enlarge, keep advance width ---------- */
document.querySelectorAll('#figure text').forEach(t => {
  const width = t.getComputedTextLength();
  const size = parseFloat(getComputedStyle(t).fontSize);
  t.style.fontSize = (size * 1.1) + 'px';
  t.setAttribute('textLength', width);
  t.setAttribute('lengthAdjust', 'spacingAndGlyphs');
});
</script>
</body>
</html>
